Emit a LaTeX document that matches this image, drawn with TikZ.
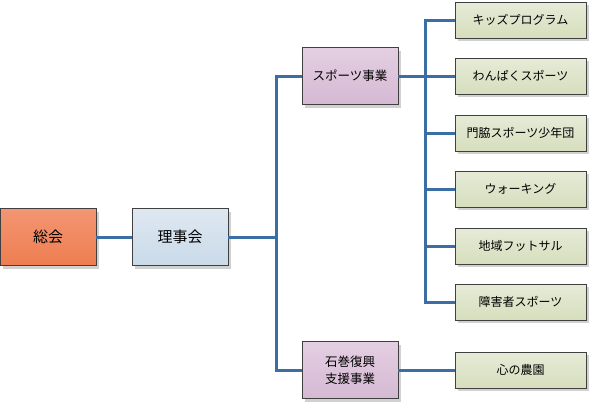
\documentclass[tikz,border=0pt]{standalone}
\usepackage{fontspec}
\setmainfont{Noto Sans CJK JP}
\usetikzlibrary{shadows}
\definecolor{linkblue}{HTML}{3C6EA6}
\definecolor{boxline}{HTML}{404040}
\tikzset{
  box/.style={draw=boxline, line width=0.9pt, minimum width=96pt, minimum height=57pt, align=center,
    drop shadow={shadow xshift=3pt, shadow yshift=-3pt, fill=black!18, opacity=1}},
  smallbox/.style={box, minimum width=131pt, minimum height=36pt, font=\fontsize{12}{14}\selectfont},
  orangebox/.style={box, top color=orange1, bottom color=orange2, font=\fontsize{15}{18}\selectfont},
  bluebox/.style={box, top color=blue1, bottom color=blue2, font=\fontsize{15}{18}\selectfont},
  purplebox/.style={box, top color=purple1, bottom color=purple2, font=\fontsize{12.5}{17}\selectfont},
  greenbox/.style={smallbox, top color=green1, bottom color=green2},
  link/.style={draw=linkblue, line width=3pt}
}
\definecolor{orange1}{HTML}{F39673}
\definecolor{orange2}{HTML}{EE7D50}
\definecolor{blue1}{HTML}{DFE8F1}
\definecolor{blue2}{HTML}{C9DAE9}
\definecolor{purple1}{HTML}{E4CFE2}
\definecolor{purple2}{HTML}{D5B9D3}
\definecolor{green1}{HTML}{E6EBD7}
\definecolor{green2}{HTML}{D6DEBD}
\begin{document}
\begin{tikzpicture}[x=1pt,y=-1pt]
\useasboundingbox (0,0) rectangle (589,402);
\node[orangebox] (soukai) at (48,237) {総会};
\node[bluebox] (rijikai) at (180,237) {理事会};
\node[purplebox] (sports) at (350,76) {スポーツ事業};
\node[purplebox] (ishinomaki) at (350,370) {石巻復興\\支援事業};
\node[greenbox] (kids) at (520.5,20) {キッズプログラム};
\node[greenbox] (wanpaku) at (520.5,76) {わんぱくスポーツ};
\node[greenbox] (kadonowaki) at (520.5,133) {門脇スポーツ少年団};
\node[greenbox] (walking) at (520.5,189) {ウォーキング};
\node[greenbox] (futsal) at (520.5,246) {地域フットサル};
\node[greenbox] (shougai) at (520.5,302) {障害者スポーツ};
\node[greenbox] (nouen) at (520.5,370) {心の農園};
\coordinate (busA) at (276,237);
\coordinate (busB) at (425,76);
\draw[link] (soukai.east) -- (rijikai.west);
\draw[link] (rijikai.east) -- (busA);
\draw[link] (sports.west) -| (busA);
\draw[link] (ishinomaki.west) -| (busA);
\draw[link] (ishinomaki.east) -- (nouen.west);
\draw[link] (sports.east) -- (wanpaku.west);
\draw[link] (kids.west) -| (busB);
\draw[link] (shougai.west) -| (busB);
\draw[link] (busB |- kadonowaki.west) -- (kadonowaki.west);
\draw[link] (busB |- walking.west) -- (walking.west);
\draw[link] (busB |- futsal.west) -- (futsal.west);
\end{tikzpicture}
\end{document}
